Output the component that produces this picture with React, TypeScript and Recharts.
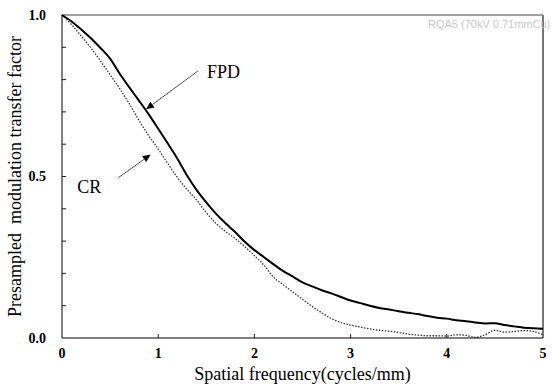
import { LineChart, Line, XAxis, YAxis, ReferenceLine } from "recharts";

// spatial frequency (cycles/mm), 0.1 step
const freq = [
  0, 0.1, 0.2, 0.3, 0.4, 0.5, 0.6, 0.7, 0.8, 0.9,
  1, 1.1, 1.2, 1.3, 1.4, 1.5, 1.6, 1.7, 1.8, 1.9,
  2, 2.1, 2.2, 2.3, 2.4, 2.5, 2.6, 2.7, 2.8, 2.9,
  3, 3.1, 3.2, 3.3, 3.4, 3.5, 3.6, 3.7, 3.8, 3.9,
  4, 4.1, 4.2, 4.3, 4.4, 4.5, 4.6, 4.7, 4.8, 4.9, 5,
];

const fpd = [
  1.0, 0.98, 0.955, 0.928, 0.898, 0.865, 0.818, 0.776, 0.735, 0.693,
  0.648, 0.602, 0.555, 0.503, 0.458, 0.42, 0.385, 0.355, 0.328, 0.298,
  0.272, 0.25, 0.228, 0.207, 0.19, 0.172, 0.16, 0.148, 0.138, 0.127,
  0.116, 0.108, 0.1, 0.093, 0.088, 0.083, 0.078, 0.074, 0.068, 0.063,
  0.06, 0.055, 0.052, 0.048, 0.045, 0.046, 0.04, 0.036, 0.032, 0.03, 0.029,
];

const cr = [
  1.0, 0.97, 0.935, 0.898, 0.858, 0.815, 0.772, 0.725, 0.674, 0.627,
  0.585, 0.54, 0.497, 0.46, 0.427, 0.388, 0.355, 0.33, 0.308, 0.283,
  0.255, 0.225, 0.188, 0.165, 0.142, 0.12, 0.098, 0.078, 0.06, 0.048,
  0.04, 0.034, 0.028, 0.024, 0.021, 0.017, 0.012, 0.009, 0.007, 0.007,
  0.006, 0.01, 0.008, 0.002, 0.01, 0.024, 0.018, 0.02, 0.023, 0.02, 0.01,
];

const xTicks = [0, 1, 2, 3, 4, 5];
const yTicks = [0, 0.1, 0.2, 0.3, 0.4, 0.5, 0.6, 0.7, 0.8, 0.9, 1];
const yLabeled = [0, 0.5, 1];

const data = freq.map((f, i) => ({ f, fpd: fpd[i], cr: cr[i] }));

const SERIF = "'Liberation Serif', 'Times New Roman', serif";
const TICK_LEN = 4;

function YTick(p: any) {
  const { x, y, payload } = p;
  const v = payload.value;
  if (!yLabeled.includes(v)) return <g />;
  return (
    <text x={x} y={y} dy="0.35em" textAnchor="end" fontFamily={SERIF} fontWeight="bold" fontSize={14} fill="#000">
      {v.toFixed(1)}
    </text>
  );
}

function XTick(p: any) {
  const { x, y, payload } = p;
  return (
    <text x={x} y={y} dy="0.8em" textAnchor="middle" fontFamily={SERIF} fontWeight="bold" fontSize={14} fill="#000">
      {payload.value}
    </text>
  );
}

// short inward tick marks, drawn at the axis end of a reference line
const yTickMark = (p: any) => {
  const x0 = Math.min(p.x1, p.x2);
  return <path d={`M${x0},${p.y1}h${TICK_LEN}`} stroke="#222" strokeWidth={1} fill="none" />;
};
const xTickMark = (p: any) => {
  const y0 = Math.max(p.y1, p.y2);
  return <path d={`M${p.x1},${y0}v${-TICK_LEN}`} stroke="#222" strokeWidth={1} fill="none" />;
};

// arrow annotation: line from label to curve, filled head at the tip
function makeArrow(text: string, dx: number, dy: number) {
  return (p: any) => {
    const { x1, y1, x2, y2 } = p;
    const ang = Math.atan2(y2 - y1, x2 - x1);
    const len = 8;
    const w = 3.5;
    const bx = x2 - len * Math.cos(ang);
    const by = y2 - len * Math.sin(ang);
    const px = -Math.sin(ang) * w;
    const py = Math.cos(ang) * w;
    return (
      <g>
        <line x1={x1} y1={y1} x2={bx} y2={by} stroke="#555" strokeWidth={1} />
        <polygon points={`${x2},${y2} ${bx + px},${by + py} ${bx - px},${by - py}`} fill="#000" />
        <text x={x1 + dx} y={y1 + dy} fontFamily={SERIF} fontSize={18} fill="#000">
          {text}
        </text>
      </g>
    );
  };
}

export default function App() {
  return (
    <div style={{ position: "absolute", left: 0, top: 0, width: 552, height: 387, background: "#fff" }}>
      <LineChart width={552} height={387} data={data} margin={{ top: 15, right: 9, bottom: 0, left: 0 }}>
        <XAxis
          dataKey="f"
          type="number"
          domain={[0, 5]}
          ticks={xTicks}
          tick={<XTick />}
          tickLine={false}
          tickSize={0}
          tickMargin={9}
          height={49}
          stroke="#000"
          label={{
            value: "Spatial frequency(cycles/mm)",
            position: "insideBottom",
            offset: 7,
            style: { fontSize: 18, fontFamily: SERIF, fill: "#000" },
          }}
        />
        <YAxis
          type="number"
          domain={[0, 1]}
          ticks={yTicks}
          interval={0}
          tick={<YTick />}
          tickLine={false}
          tickSize={0}
          tickMargin={16}
          width={62}
          stroke="#000"
          label={{
            value: "Presampled\u00A0 modulation transfer factor",
            angle: -90,
            position: "insideLeft",
            offset: 15,
            style: { fontSize: 18, fontFamily: SERIF, fill: "#000", textAnchor: "middle" },
          }}
        />
        <ReferenceLine y={1} stroke="#444" strokeWidth={1.2} />
        <ReferenceLine x={5} stroke="#777" strokeWidth={2} />
        {yTicks.slice(1, -1).map((v) => (
          <ReferenceLine key={`yt${v}`} y={v} stroke="#222" shape={yTickMark} />
        ))}
        {xTicks.slice(1, -1).map((v) => (
          <ReferenceLine key={`xt${v}`} x={v} stroke="#222" shape={xTickMark} />
        ))}
        <Line
          dataKey="cr"
          type="monotone"
          stroke="#333"
          strokeWidth={1.3}
          strokeDasharray="1.5 1.5"
          dot={false}
          isAnimationActive={false}
        />
        <Line
          dataKey="fpd"
          type="monotone"
          stroke="#000"
          strokeWidth={2}
          dot={false}
          isAnimationActive={false}
        />
        <ReferenceLine
          segment={[{ x: 1.414, y: 0.827 }, { x: 0.873, y: 0.708 }]}
          shape={makeArrow("FPD", 9, 7)}
        />
        <ReferenceLine
          segment={[{ x: 0.585, y: 0.496 }, { x: 0.922, y: 0.568 }]}
          shape={makeArrow("CR", -41, 15)}
        />
      </LineChart>
      <div
        style={{
          position: "absolute",
          left: 428,
          top: 18,
          fontFamily: "'Liberation Sans', Arial, sans-serif",
          fontSize: 11,
          color: "#c8c8c8",
          whiteSpace: "nowrap",
        }}
      >
        RQA5 (70kV 0.71mmCu)
      </div>
    </div>
  );
}
